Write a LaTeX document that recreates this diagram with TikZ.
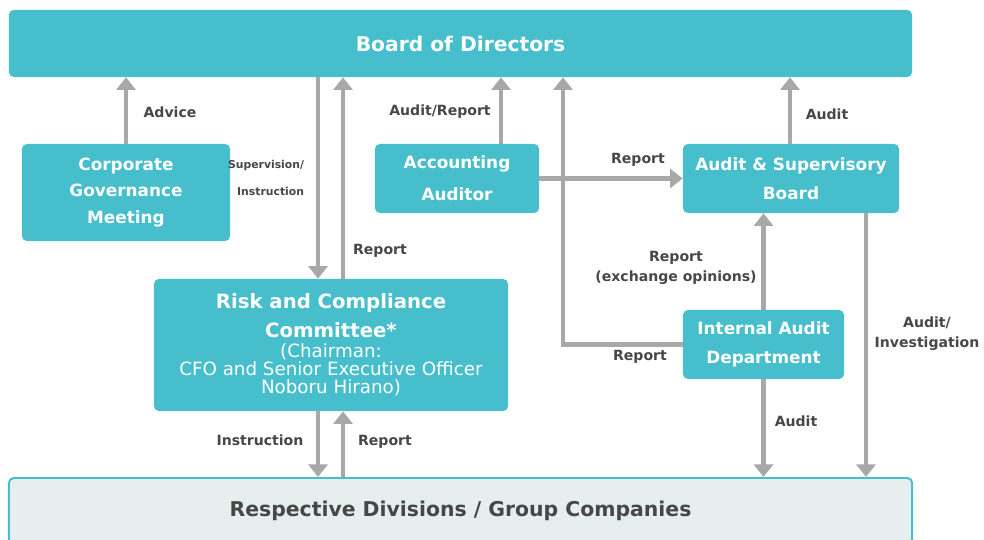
\documentclass[tikz,border=0pt]{standalone}
\usepackage{fontspec}
\setmainfont{DejaVu Sans}
\usetikzlibrary{arrows.meta,positioning}

\definecolor{boxteal}{HTML}{46BECB}
\definecolor{arrowgrey}{HTML}{A7A8AA}
\definecolor{labelgrey}{HTML}{474747}
\definecolor{divfill}{HTML}{E6EEEE}

\begin{document}
\begin{tikzpicture}[
    x=0.025cm, y=-0.025cm,
    box/.style={fill=boxteal, rounded corners=3.5pt, text=white, align=center, inner sep=0pt, font=\fontsize{12}{20}\selectfont\bfseries},
    arrow/.style={draw=arrowgrey, line width=3.5pt, -{Triangle[width=13.5pt,length=9pt]}},
    lbl/.style={text=labelgrey, align=center, font=\fontsize{10}{14}\selectfont\bfseries}
]
    \useasboundingbox (0,0) rectangle (984,539);

    % boxes
    \node[box, minimum width=22.575cm, minimum height=1.675cm, font=\fontsize{14.4}{17}\selectfont\bfseries] (board) at (460.5,43.5) {Board of Directors};
    \node[box, minimum width=5.2cm, minimum height=2.425cm, font=\fontsize{12}{19}\selectfont\bfseries] (cgm) at (126,192.5) {Corporate\\Governance\\Meeting};
    \node[box, minimum width=4.1cm, minimum height=1.725cm, font=\fontsize{12}{23}\selectfont\bfseries] (acc) at (457,178.5) {Accounting\\Auditor};
    \node[box, minimum width=5.4cm, minimum height=1.725cm, font=\fontsize{12}{21}\selectfont\bfseries] (asb) at (791,178.5) {Audit \& Supervisory\\Board};
    \node[box, minimum width=8.85cm, minimum height=3.3cm, font=\fontsize{13}{13}\selectfont] (risk) at (331,345)
        {\fontsize{14}{13}\selectfont\bfseries Risk and Compliance\\[6pt]
         \fontsize{14}{13}\selectfont\bfseries Committee*\\[1pt]
         (Chairman:\\CFO and Senior Executive Officer\\Noboru Hirano)};
    \node[box, minimum width=4.025cm, minimum height=1.725cm, font=\fontsize{12}{20.5}\selectfont\bfseries] (iad) at (763.5,344.5) {Internal Audit\\Department};
    \node[draw=boxteal, line width=1.4pt, fill=divfill, rounded corners=3.5pt, minimum width=22.575cm, minimum height=1.65cm,
          text=labelgrey, font=\fontsize{14.5}{17}\selectfont\bfseries] (div) at (460.5,511) {Respective Divisions / Group Companies};

    % connector columns
    \coordinate (xsup) at (318,0);
    \coordinate (xrep) at (343,0);
    \coordinate (xacc) at (501,0);
    \coordinate (xloop) at (563,0);
    \coordinate (xaud) at (790,0);
    \coordinate (xinv) at (866,0);

    % connectors
    \draw[arrow] (cgm.north) -- (cgm.north |- board.south);
    \draw[arrow] (xsup |- board.south) -- (xsup |- risk.north);
    \draw[arrow] (xrep |- risk.north) -- (xrep |- board.south);
    \draw[arrow] (xacc |- acc.north) -- (xacc |- board.south);
    \draw[arrow] (iad.west) -| (xloop |- board.south);
    \draw[arrow] (acc.east) -- (asb.west |- acc.east);
    \draw[arrow] (xaud |- asb.north) -- (xaud |- board.south);
    \draw[arrow] (iad.north) -- (iad.north |- asb.south);
    \draw[arrow] (iad.south) -- (iad.south |- div.north);
    \draw[arrow] (xinv |- asb.south) -- (xinv |- div.north);
    \draw[arrow] (xsup |- risk.south) -- (xsup |- div.north);
    \draw[arrow] (xrep |- div.north) -- (xrep |- risk.south);

    % labels
    \node[lbl] (lAdvice) at (170,112) {Advice};
    \node[lbl, font=\fontsize{7.7}{9}\selectfont\bfseries, align=right, anchor=east] (lSupervision) at (309,178) {Supervision/\\[10pt]Instruction};
    \node[lbl] (lReportUp) at (380,251) {Report};
    \node[lbl] (lAuditReport) at (440,112) {Audit/Report};
    \node[lbl] (lReportAsb) at (638,160) {Report};
    \node[lbl] (lAuditBoard) at (827,114) {Audit};
    \node[lbl] (lExchange) at (676,268) {Report\\(exchange opinions)};
    \node[lbl] (lReportLoop) at (640,357) {Report};
    \node[lbl] (lAuditDiv) at (796,421) {Audit};
    \node[lbl] (lInvestigation) at (927,334) {Audit/\\Investigation};
    \node[lbl] (lInstruction) at (260,440) {Instruction};
    \node[lbl] (lReportDiv) at (385,442) {Report};
\end{tikzpicture}
\end{document}
